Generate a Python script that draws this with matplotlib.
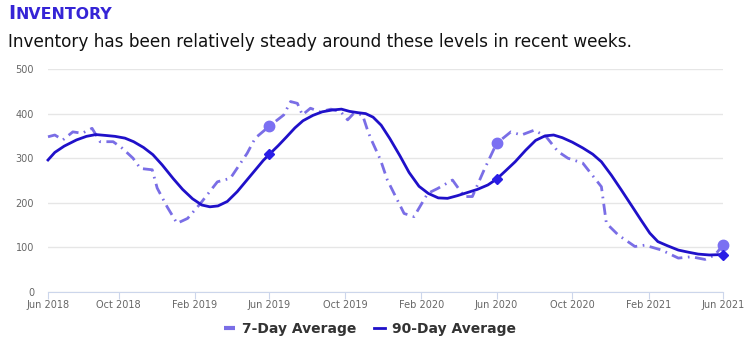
import numpy as np
import pandas as pd
import matplotlib
matplotlib.use("Agg")
import matplotlib.pyplot as plt
import matplotlib.dates as mdates
from matplotlib.lines import Line2D

# %%
# data
week7_dates = ["2018-06-09", "2018-06-20", "2018-07-03", "2018-07-19", "2018-08-03", "2018-08-19",
               "2018-09-01", "2018-09-22", "2018-10-07", "2018-10-24", "2018-11-05", "2018-11-24",
               "2018-12-02", "2018-12-18", "2019-01-03", "2019-01-20", "2019-02-10", "2019-03-09",
               "2019-03-30", "2019-04-26", "2019-05-09", "2019-06-01", "2019-06-24", "2019-07-05",
               "2019-07-16", "2019-07-24", "2019-08-06", "2019-08-22", "2019-09-08", "2019-09-24",
               "2019-10-05", "2019-10-15", "2019-10-29", "2019-11-06", "2019-11-11", "2019-11-27",
               "2019-12-08", "2020-01-04", "2020-01-20", "2020-02-11", "2020-02-27", "2020-03-22",
               "2020-04-10", "2020-04-23", "2020-05-12", "2020-06-01", "2020-06-24", "2020-07-11",
               "2020-08-01", "2020-08-20", "2020-09-08", "2020-09-24", "2020-10-18", "2020-11-17",
               "2020-11-25", "2020-12-14", "2021-01-10", "2021-01-26", "2021-02-22", "2021-03-21",
               "2021-04-11", "2021-05-03", "2021-05-19", "2021-06-01"]
week7_vals = [348, 352, 341, 359, 356, 367,
              337, 337, 322, 300, 277, 274,
              233, 191, 154, 165, 199, 247,
              255, 311, 345, 372, 397, 427,
              423, 397, 412, 404, 410, 404,
              386, 401, 397, 363, 345, 296,
              251, 176, 169, 221, 232, 251,
              214, 214, 274, 333, 359, 352,
              363, 348, 315, 300, 289, 236,
              154, 128, 102, 105, 94, 76,
              79, 73, 83, 105]

day90_dates = ["2018-06-09", "2018-06-20", "2018-07-05", "2018-07-25", "2018-08-10", "2018-08-25",
               "2018-09-10", "2018-09-25", "2018-10-11", "2018-10-25", "2018-11-10", "2018-11-25",
               "2018-12-10", "2018-12-28", "2019-01-12", "2019-01-28", "2019-02-12", "2019-02-25",
               "2019-03-10", "2019-03-25", "2019-04-10", "2019-04-25", "2019-05-10", "2019-05-22",
               "2019-06-01", "2019-06-15", "2019-06-28", "2019-07-12", "2019-07-25", "2019-08-10",
               "2019-08-25", "2019-09-10", "2019-09-25", "2019-10-08", "2019-10-22", "2019-11-03",
               "2019-11-15", "2019-11-28", "2019-12-12", "2019-12-28", "2020-01-12", "2020-01-28",
               "2020-02-12", "2020-02-28", "2020-03-14", "2020-03-30", "2020-04-15", "2020-05-01",
               "2020-05-18", "2020-06-01", "2020-06-15", "2020-07-01", "2020-07-18", "2020-08-03",
               "2020-08-18", "2020-09-01", "2020-09-15", "2020-10-01", "2020-10-18", "2020-11-03",
               "2020-11-17", "2020-12-03", "2020-12-19", "2021-01-05", "2021-01-20", "2021-02-03",
               "2021-02-16", "2021-03-03", "2021-03-21", "2021-04-07", "2021-04-22", "2021-05-10",
               "2021-06-01"]
day90_vals = [296, 313, 327, 341, 349, 353,
              351, 349, 345, 337, 324, 308,
              285, 254, 230, 209, 195, 191,
              193, 203, 225, 250, 275, 295,
              309, 328, 347, 368, 384, 396,
              404, 408, 410, 405, 402, 400,
              392, 374, 344, 306, 268, 237,
              221, 211, 210, 216, 223, 230,
              240, 253, 271, 292, 318, 340,
              350, 352, 346, 336, 323, 309,
              292, 262, 229, 193, 161, 132,
              113, 104, 94, 89, 85, 83,
              84]

marked_dates = ["2019-06-01", "2020-06-01", "2021-06-01"]

tick_dates = ["2018-06-09", "2018-10-01", "2019-02-01", "2019-06-01", "2019-10-01",
              "2020-02-01", "2020-06-01", "2020-10-01", "2021-02-01", "2021-06-01"]
tick_labels = ["Jun 2018", "Oct 2018", "Feb 2019", "Jun 2019", "Oct 2019",
               "Feb 2020", "Jun 2020", "Oct 2020", "Feb 2021", "Jun 2021"]
y_ticks = [0, 100, 200, 300, 400, 500]

# %%
c7 = "#7a6ee6"
c90 = "#1f10c9"

x7 = pd.to_datetime(week7_dates)
x90 = pd.to_datetime(day90_dates)
marks = pd.to_datetime(marked_dates)
m7 = [i for i, d in enumerate(x7) if d in marks]
m90 = [i for i, d in enumerate(x90) if d in marks]

fig = plt.figure(figsize=(7.55, 3.57), dpi=100)
ax = fig.add_axes([48 / 755, 65 / 357, 675 / 755, 223 / 357])

ax.plot(x7, week7_vals, color=c7, lw=2, dashes=(4, 2, 0.6, 2),
        marker="o", markevery=m7, markersize=7.5, markerfacecolor="#7b70f2",
        markeredgecolor="#7b70f2", zorder=2, clip_on=False)
ax.plot(x90, day90_vals, color=c90, lw=2, solid_joinstyle="round",
        marker="D", markevery=m90, markersize=5.5, markerfacecolor="#2a1ee6",
        markeredgecolor="#2a1ee6", zorder=3, clip_on=False)

ax.set_ylim(0, 500)
ax.set_xlim(x7[0], x7[-1])
ax.set_yticks(y_ticks)
ax.set_xticks(pd.to_datetime(tick_dates))
ax.set_xticklabels(tick_labels)
ax.grid(axis="y", color="#e6e6e6", lw=1)
ax.set_axisbelow(True)
for s in ["top", "right", "left"]:
    ax.spines[s].set_visible(False)
ax.spines["bottom"].set_color("#ccd6eb")
ax.tick_params(axis="y", length=0, labelsize=7, labelcolor="#666666", pad=10)
ax.tick_params(axis="x", length=5, color="#ccd6eb", labelsize=7, labelcolor="#666666", pad=1)

# title in small caps
fig.text(8 / 755, 1 - 19 / 357, "I", fontsize=14, color="#3524d6", fontweight="semibold",
         va="baseline", ha="left")
fig.text(15.5 / 755, 1 - 19 / 357, "NVENTORY", fontsize=11.3, color="#3524d6", fontweight="semibold",
         va="baseline", ha="left")
fig.text(8 / 755, 1 - 42 / 357,
         "Inventory has been relatively steady around these levels in recent weeks.",
         fontsize=12.2, color="#111111", va="center", ha="left")

handles = [Line2D([], [], color=c7, lw=3, dashes=(3, 2)),
           Line2D([], [], color=c90, lw=2)]
fig.legend(handles, ["7-Day Average", "90-Day Average"], loc="center",
           bbox_to_anchor=(370 / 755, 1 - 329 / 357), ncol=2, frameon=False,
           prop={"size": 10, "weight": "bold"}, labelcolor="#333333",
           handlelength=0.8, handletextpad=0.5, columnspacing=1.3)

fig.savefig("out.png", dpi=100)
